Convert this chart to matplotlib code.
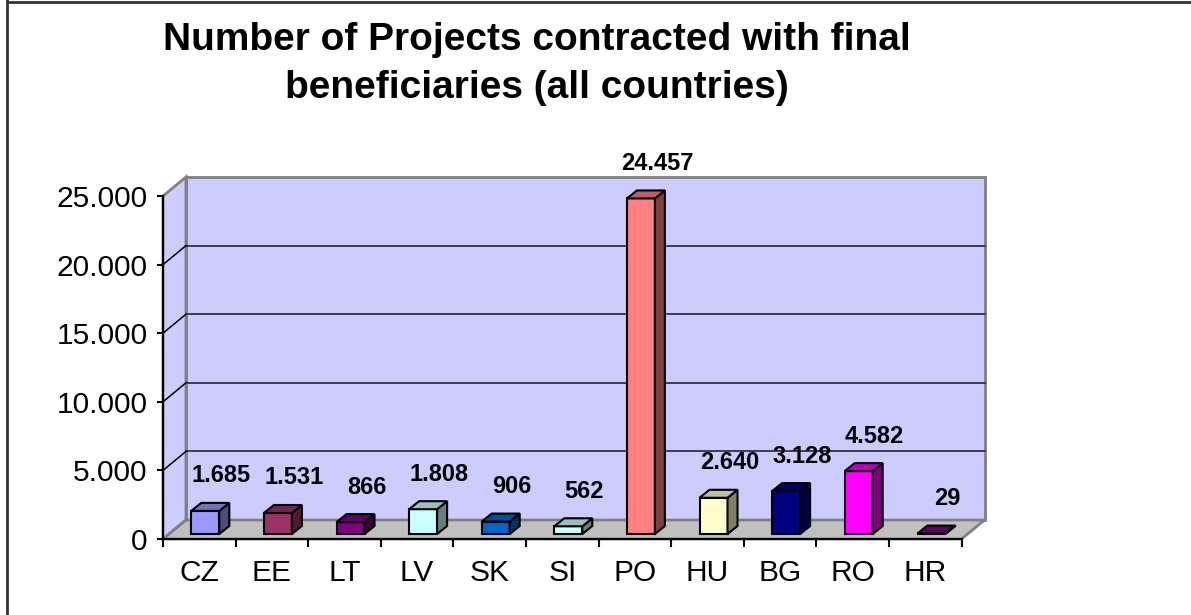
import matplotlib
matplotlib.use('Agg')
import matplotlib.pyplot as plt
from matplotlib.colors import to_rgb
from matplotlib.lines import Line2D
import numpy as np

plt.rcParams['font.family'] = ['Liberation Sans', 'DejaVu Sans']

# data
countries = ['CZ', 'EE', 'LT', 'LV', 'SK', 'SI', 'PO', 'HU', 'BG', 'RO', 'HR']
projects = [1685, 1531, 866, 1808, 906, 562, 24457, 2640, 3128, 4582, 29]
bar_colors = ['#9999FF', '#993366', '#800080', '#CCFFFF', '#0066CC', '#CCFFFF',
              '#FF8080', '#FFFFCC', '#000080', '#FF00FF', '#800080']
y_ticks = [0, 5000, 10000, 15000, 20000, 25000]
title = 'Number of Projects contracted with final\nbeneficiaries (all countries)'

W, H = 1191, 615
# geometry in pixels
X0, Y0 = 163, 539          # front left corner of the floor
CAT_PX = 72.6              # pixels per category
Y_PX = 343 / 25000         # pixels per project
WALL_DX, WALL_DY = 23, 19  # depth of the walls
BAR_FX, BAR_FY = 6, 5      # bars stand a bit inside the floor
BAR_DX, BAR_DY = 10, 8     # depth of a bar
BAR_W = 28
AX_W, AX_H = 840, 375

fig = plt.figure(figsize=(W / 100, H / 100), dpi=100)
ax = fig.add_axes([X0 / W, (H - Y0) / H, AX_W / W, AX_H / H])
ax.set_xlim(-0.5, -0.5 + AX_W / CAT_PX)
ax.set_ylim(0, AX_H / Y_PX)
ax.patch.set_visible(False)


def ux(px):
    return px / CAT_PX


def uy(px):
    return px / Y_PX


n = len(countries)
left, right = -0.5, n - 0.5
top = y_ticks[-1]
wdx, wdy = ux(WALL_DX), uy(WALL_DY)

wall_kw = dict(facecolor='#CCCCFF', edgecolor='#808080', linewidth=2, clip_on=False)
# back wall
ax.fill([left + wdx, right + wdx, right + wdx, left + wdx],
        [wdy, wdy, top + wdy, top + wdy], zorder=1, **wall_kw)
# left wall
ax.fill([left, left + wdx, left + wdx, left],
        [0, wdy, top + wdy, top], zorder=1, **wall_kw)
# floor
ax.fill([left, right, right + wdx, left + wdx],
        [0, 0, wdy, wdy], facecolor='#C0C0C0', edgecolor='#808080',
        linewidth=2, zorder=1, clip_on=False)

# gridlines
for v in y_ticks[1:-1]:
    ax.plot([left + wdx, right + wdx], [v + wdy, v + wdy], color='#333344',
            lw=1.3, zorder=2, clip_on=False)
    ax.plot([left, left + wdx], [v, v + wdy], color='black', lw=1.1,
            zorder=2, clip_on=False)
ax.plot([left, left + wdx], [0, wdy], color='#808080', lw=1.5, zorder=2, clip_on=False)

# bars
fx, fy = ux(BAR_FX), uy(BAR_FY)
bdx, bdy = ux(BAR_DX), uy(BAR_DY)
bw = ux(BAR_W)
for i, (v, c) in enumerate(zip(projects, bar_colors)):
    rgb = np.array(to_rgb(c))
    x0 = i + fx - bw / 2
    x1 = x0 + bw
    y0, y1 = fy, fy + v
    kw = dict(edgecolor='black', linewidth=1.5, zorder=3 + i * 0.01, clip_on=False)
    ax.fill([x0, x1, x1, x0], [y0, y0, y1, y1], facecolor=rgb, **kw)
    ax.fill([x1, x1 + bdx, x1 + bdx, x1], [y0, y0 + bdy, y1 + bdy, y1],
            facecolor=rgb * 0.5, **kw)
    ax.fill([x0, x1, x1 + bdx, x0 + bdx], [y1, y1, y1 + bdy, y1 + bdy],
            facecolor=rgb * 0.75, **kw)
    ax.annotate(f'{v:,}'.replace(',', '.'), xy=(i + fx, y1), xytext=(16, 35),
                textcoords='offset pixels', ha='center', va='center',
                fontsize=17, fontweight='bold', zorder=10, annotation_clip=False)

# axes
for s in ['top', 'right']:
    ax.spines[s].set_visible(False)
ax.spines['left'].set_bounds(0, top)
ax.spines['bottom'].set_bounds(left, right)
for s in ['left', 'bottom']:
    ax.spines[s].set_linewidth(1.5)
    ax.spines[s].set_zorder(5)

ax.set_yticks(y_ticks)
ax.set_yticklabels([f'{v:,}'.replace(',', '.') for v in y_ticks])
ax.tick_params(axis='y', direction='out', length=4.5, width=1.5, pad=6.5, labelsize=21.5)

ax.set_xticks(range(n))
ax.set_xticklabels(countries)
ax.set_xticks(np.arange(left, right + 0.5, 1), minor=True)
ax.tick_params(axis='x', which='major', length=0, pad=14.5, labelsize=21.5)
ax.tick_params(axis='x', which='minor', direction='out', length=5.8, width=1.5)

fig.text(537 / W, 1 - 64 / H, title, ha='center', va='center', fontsize=28,
         fontweight='bold', linespacing=1.43)

# chart border
fig.add_artist(Line2D([7 / W, 7 / W], [0, 1], color='#333333', lw=2))
fig.add_artist(Line2D([7 / W, 1], [1 - 2 / H, 1 - 2 / H], color='#333333', lw=2))

fig.savefig('out.png', dpi=100)
